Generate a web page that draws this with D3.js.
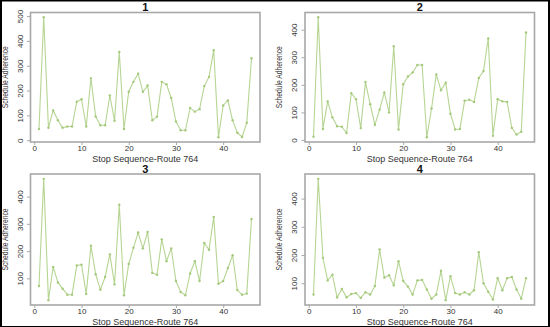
<!DOCTYPE html>
<html>
<head>
<meta charset="utf-8">
<script src="https://cdn.jsdelivr.net/npm/d3@7"></script>
<style>
  html, body { margin: 0; padding: 0; background: #fff; }
  svg { display: block; font-family: "Liberation Sans", Arial, sans-serif; }
</style>
</head>
<body>
<svg id="chart" width="550" height="327"></svg>
<script>
// Stop sequence numbers along Route 764
const stops = d3.range(1, 47);

// Schedule adherence per stop, one array per panel
const series1 = [45, 495, 50, 120, 80, 50, 55, 55, 155, 165, 55, 250, 95, 60, 60, 180, 78, 355, 45, 195,
                 235, 268, 195, 220, 80, 95, 235, 225, 170, 75, 40, 40, 130, 115, 125, 218, 255, 362, 12, 140,
                 160, 80, 30, 13, 70, 330];
const series2 = [12, 445, 40, 140, 82, 50, 48, 25, 170, 148, 43, 210, 130, 55, 110, 172, 100, 340, 38, 202,
                 230, 245, 272, 272, 10, 114, 238, 180, 208, 95, 38, 40, 142, 146, 138, 225, 250, 368, 15, 148,
                 140, 138, 44, 20, 30, 390];
const series3 = [72, 465, 20, 142, 85, 62, 40, 40, 147, 150, 43, 220, 115, 58, 105, 188, 78, 370, 38, 153,
                 212, 268, 210, 270, 120, 113, 243, 163, 210, 90, 50, 38, 118, 163, 90, 230, 205, 325, 80, 90,
                 138, 185, 57, 40, 44, 318];
const series4 = [60, 470, 190, 110, 130, 50, 80, 50, 62, 65, 48, 68, 60, 90, 220, 120, 128, 93, 178, 108,
                 88, 60, 110, 112, 78, 45, 60, 144, 40, 125, 65, 60, 68, 60, 75, 210, 100, 70, 42, 118,
                 75, 118, 122, 78, 45, 118];

const panelTitles = ["1", "2", "3", "4"];
const xTicks = [0, 10, 20, 30, 40];
const xLabel = "Stop Sequence-Route 764";
const yLabel = "Schedule Adherence";

const svg = d3.select("#chart");
const lineColor = "#b6d593";
const pointColor = "#a5c97c";
const boxColor = "#a8a8a8";

const panels = [
  { values: series1, title: panelTitles[0], left: 30.5, right: 260, top: 12.5, bottom: 142, titleY: 7,  xLabY: 158.5 },
  { values: series2, title: panelTitles[1], left: 305,  right: 534.5, top: 12.5, bottom: 142, titleY: 7,  xLabY: 158.5 },
  { values: series3, title: panelTitles[2], left: 30.5, right: 260, top: 174, bottom: 305, titleY: 169, xLabY: 321.5 },
  { values: series4, title: panelTitles[3], left: 305,  right: 534.5, top: 174, bottom: 305, titleY: 169, xLabY: 321.5 }
];

// Pad a data range by 4% on each side
function padded(ext) {
  const d = (ext[1] - ext[0]) * 0.04;
  return [ext[0] - d, ext[1] + d];
}

panels.forEach(p => {
  const g = svg.append("g");
  const x = d3.scaleLinear().domain(padded(d3.extent(stops))).range([p.left, p.right]);
  const y = d3.scaleLinear().domain(padded(d3.extent(p.values))).range([p.bottom, p.top]);
  const yTicks = d3.range(0, 600, 100).filter(v => v >= y.domain()[0] && v <= y.domain()[1]);

  // Data line and points
  const line = d3.line().x((d, i) => x(stops[i])).y(d => y(d));
  g.append("path")
    .datum(p.values)
    .attr("d", line)
    .attr("fill", "none")
    .attr("stroke", lineColor)
    .attr("stroke-width", 1.1);
  g.selectAll("circle")
    .data(p.values)
    .join("circle")
    .attr("cx", (d, i) => x(stops[i]))
    .attr("cy", d => y(d))
    .attr("r", 1.2)
    .attr("fill", pointColor);

  // Plot box
  g.append("rect")
    .attr("x", p.left).attr("y", p.top)
    .attr("width", p.right - p.left).attr("height", p.bottom - p.top)
    .attr("fill", "none").attr("stroke", boxColor).attr("stroke-width", 1.6);

  // X axis
  const xa = g.append("g")
    .attr("transform", `translate(0,${p.bottom})`)
    .call(d3.axisBottom(x).tickValues(xTicks).tickSize(3).tickPadding(0));
  xa.select(".domain").remove();
  xa.selectAll(".tick line").attr("stroke", boxColor);
  xa.selectAll(".tick text").attr("fill", "#333").attr("font-size", 8)
    .attr("font-family", "Liberation Sans, Arial, sans-serif");

  // Y axis with rotated labels
  const ya = g.append("g")
    .attr("transform", `translate(${p.left},0)`)
    .call(d3.axisLeft(y).tickValues(yTicks).tickSize(3.5));
  ya.select(".domain").remove();
  ya.selectAll(".tick line").attr("stroke", boxColor);
  ya.selectAll(".tick text")
    .attr("x", null).attr("dy", null)
    .attr("transform", "translate(-8,0) rotate(-90)")
    .attr("text-anchor", "middle")
    .attr("fill", "#333").attr("font-size", 8)
    .attr("font-family", "Liberation Sans, Arial, sans-serif");

  // Title
  g.append("text")
    .attr("x", (p.left + p.right) / 2).attr("y", p.titleY)
    .attr("dy", "0.35em")
    .attr("text-anchor", "middle")
    .attr("font-size", 11).attr("font-weight", "bold").attr("fill", "#111")
    .text(p.title);

  // Axis titles
  g.append("text")
    .attr("x", (p.left + p.right) / 2).attr("y", p.xLabY)
    .attr("dy", "0.35em")
    .attr("text-anchor", "middle")
    .attr("font-size", 9).attr("fill", "#333")
    .text(xLabel);
  g.append("text")
    .attr("transform", `translate(${p.left - 23},${(p.top + p.bottom) / 2}) rotate(-90)`)
    .attr("text-anchor", "middle")
    .attr("font-size", 9).attr("fill", "#333")
    .attr("textLength", 62).attr("lengthAdjust", "spacingAndGlyphs")
    .text(yLabel);
});

// Dark outer frame
const frame = svg.append("g").attr("fill", "#000");
frame.append("rect").attr("x", 0).attr("y", 0).attr("width", 550).attr("height", 1.5);
frame.append("rect").attr("x", 0).attr("y", 0).attr("width", 2).attr("height", 327);
frame.append("rect").attr("x", 548).attr("y", 0).attr("width", 2).attr("height", 327);
frame.append("rect").attr("x", 0).attr("y", 326).attr("width", 550).attr("height", 1);
</script>
</body>
</html>
